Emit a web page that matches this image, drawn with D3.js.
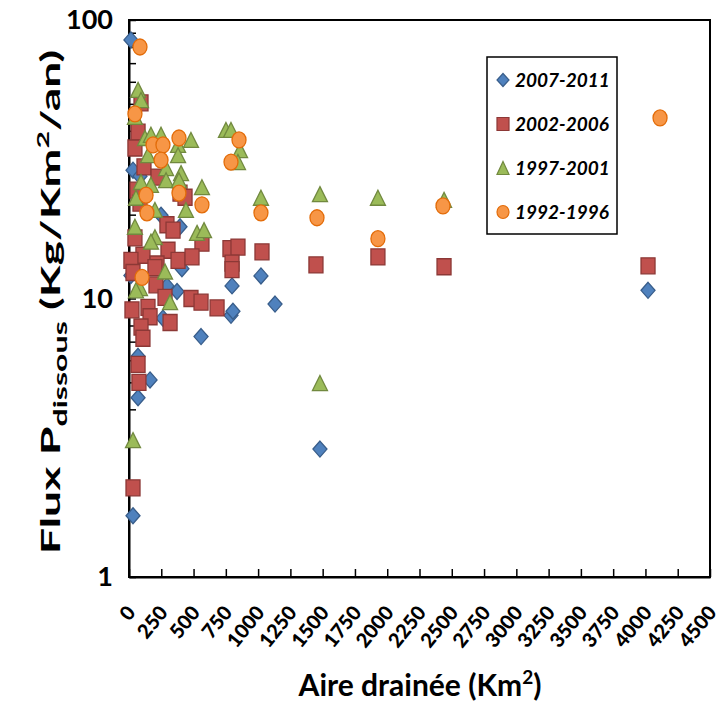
<!DOCTYPE html>
<html>
<head>
<meta charset="utf-8">
<script src="https://cdn.jsdelivr.net/npm/d3@7"></script>
<style>
  body { margin: 0; background: #fff; }
  text { font-family: Lato, "Liberation Sans", sans-serif; }
</style>
</head>
<body>
<svg width="726" height="727"></svg>
<script>
// series names, in drawing order
var seriesNames = ["2007-2011", "2002-2006", "1997-2001", "1992-1996"]

// [aire drainee (km2), flux P dissous (kg/km2/an)]
var p2007 = [[15, 84.8], [31, 28.9], [85, 27.5], [248, 19.9], [395, 18.1], [410, 12.8],
  [294, 11.1], [372, 10.6], [263, 8.5], [70, 6.2], [163, 5.1], [70, 4.4], [558, 7.3],
  [798, 11.1], [790, 8.7], [805, 9.0], [1022, 12.05], [1131, 9.55], [1479, 2.88],
  [4020, 10.7], [31, 1.66], [15, 12.1]]

var p2002 = [[93, 50.4], [70, 39.6], [46, 34.7], [116, 29.7], [225, 27.3], [62, 24.5],
  [85, 22.0], [395, 23.9], [434, 23.1], [294, 18.4], [341, 17.6], [46, 16.5], [565, 15.8],
  [302, 14.9], [108, 14.3], [15, 13.7], [380, 13.7], [217, 13.3], [488, 14.1], [782, 15.1],
  [844, 15.3], [798, 13.4], [798, 12.7], [1030, 14.7], [31, 12.4], [201, 12.9], [209, 11.2],
  [279, 10.1], [480, 10.0], [558, 9.7], [682, 9.25], [23, 9.1], [147, 9.3], [163, 8.6],
  [93, 7.9], [108, 7.2], [318, 8.2], [70, 5.8], [77, 5.0], [31, 2.09], [1448, 13.2],
  [1928, 14.1], [2440, 13.0], [4020, 13.1]]

var p1997 = [[70, 56.1], [93, 51.6], [46, 44.9], [124, 37.7], [170, 38.7], [248, 38.7],
  [147, 32.7], [380, 35.6], [380, 32.7], [480, 37.1], [287, 29.4], [403, 28.2], [751, 40.3],
  [790, 40.3], [860, 34.1], [844, 30.9], [93, 26.2], [170, 25.6], [287, 26.6], [387, 26.6],
  [565, 25.1], [54, 23.0], [441, 20.8], [201, 20.8], [46, 18.1], [201, 16.6], [170, 16.0],
  [527, 17.2], [581, 17.6], [279, 12.5], [85, 10.9], [318, 9.7], [54, 10.7], [31, 3.1],
  [1022, 23.0], [1479, 23.7], [1479, 4.97], [1928, 23.0], [2440, 22.6]]

var p1992 = [[85, 80.0], [46, 46.0], [186, 35.6], [263, 35.6], [387, 37.7], [248, 31.4],
  [852, 37.1], [790, 30.9], [132, 23.5], [387, 23.9], [139, 20.3], [565, 21.7], [1022, 20.3],
  [1456, 19.5], [1928, 16.4], [2432, 21.5], [4113, 44.5], [101, 11.9]]

var xTicks = d3.range(0, 4501, 250)
var yMajor = [1, 10, 100]

var styles = [
  {shape: "diamond", fill: "#4F81BD", stroke: "#385D8A"},
  {shape: "square", fill: "#C0504D", stroke: "#8C3836"},
  {shape: "triangle", fill: "#9BBB59", stroke: "#71893F"},
  {shape: "circle", fill: "#F79646", stroke: "#E36C09"}
]

var markerPath = function (shape, w, h) {
  var a = w / 2, b = h / 2
  if (shape == "diamond") return "M0," + (-b) + "L" + a + ",0L0," + b + "L" + (-a) + ",0Z"
  if (shape == "square") return "M" + (-a) + "," + (-b) + "H" + a + "V" + b + "H" + (-a) + "Z"
  if (shape == "triangle") return "M0," + (-b) + "L" + a + "," + b + "L" + (-a) + "," + b + "Z"
  return "M" + (-a) + ",0A" + a + "," + b + " 0 1,0 " + a + ",0A" + a + "," + b + " 0 1,0 " + (-a) + ",0Z"
}

var svg = d3.select("svg")
var plot = {left: 129, right: 710, top: 20, bottom: 577}

var xScale = d3.scaleLinear().domain([0, 4500]).range([plot.left, plot.right])
var yScale = d3.scaleLog().domain([1, 100]).range([plot.bottom, plot.top])

// frame
svg.append("rect")
  .attr("x", plot.left).attr("y", plot.top)
  .attr("width", plot.right - plot.left).attr("height", plot.bottom - plot.top)
  .attr("fill", "none").attr("stroke", "#000").attr("stroke-width", 2)

// x axis
var xAxis = d3.axisBottom(xScale).tickValues(xTicks).tickSizeInner(-8).tickSizeOuter(0)
  .tickFormat(d3.format("d"))
var gx = svg.append("g")
  .attr("transform", "translate(0," + plot.bottom + ")")
  .call(xAxis)
gx.select(".domain").attr("stroke-width", 2)
gx.selectAll(".tick line").attr("stroke-width", 1.5)
gx.selectAll(".tick text")
  .attr("y", 0).attr("dy", 0)
  .attr("text-anchor", "end")
  .attr("transform", "translate(7,36) rotate(-51)")
  .attr("font-size", 20).attr("font-weight", "900").attr("fill", "#000")

// y axis, log with minor ticks
var yTicks = []
for (var d = 1; d < 100; d *= 10) {
  for (var k = 1; k < 10; k++) yTicks.push(d * k)
}
yTicks.push(100)
var yAxis = d3.axisLeft(yScale).tickValues(yTicks).tickSizeInner(-7).tickSizeOuter(0)
  .tickPadding(16)
  .tickFormat(function (v) { return yMajor.indexOf(v) >= 0 ? v : "" })
var gy = svg.append("g")
  .attr("transform", "translate(" + plot.left + ",0)")
  .call(yAxis)
gy.select(".domain").attr("stroke-width", 2)
gy.selectAll(".tick line").attr("stroke-width", 1.5)
gy.selectAll(".tick text")
  .attr("font-size", 27).attr("font-weight", "bold").attr("fill", "#000")

// points
var allSeries = [p2007, p2002, p1997, p1992]
allSeries.forEach(function (pts, i) {
  var st = styles[i]
  svg.append("g")
    .selectAll("path")
    .data(pts)
    .enter()
    .append("path")
    .attr("d", markerPath(st.shape, st.shape == "triangle" ? 15 : 14, st.shape == "triangle" ? 15 : 16))
    .attr("transform", function (p) {
      return "translate(" + xScale(p[0]) + "," + yScale(p[1]) + ")"
    })
    .attr("fill", st.fill)
    .attr("stroke", st.stroke)
    .attr("stroke-width", 1.3)
})

// legend
var legend = svg.append("g")
legend.append("rect")
  .attr("x", 487).attr("y", 57).attr("width", 130).attr("height", 177)
  .attr("fill", "#fff").attr("stroke", "#000").attr("stroke-width", 1.5)
var entries = legend.selectAll("g.entry")
  .data(seriesNames)
  .enter()
  .append("g")
  .attr("transform", function (n, i) { return "translate(503," + (80 + i * 44) + ")" })
entries.append("path")
  .attr("d", function (n, i) { return markerPath(styles[i].shape, 12, 13) })
  .attr("fill", function (n, i) { return styles[i].fill })
  .attr("stroke", function (n, i) { return styles[i].stroke })
  .attr("stroke-width", 1.2)
entries.append("text")
  .attr("x", 12).attr("dy", "0.35em")
  .attr("font-size", 19).attr("font-weight", "bold").attr("font-style", "italic")
  .text(function (n) { return n })

// axis titles
var xt = svg.append("text")
  .attr("x", 420).attr("y", 696)
  .attr("text-anchor", "middle")
  .attr("font-size", 30).attr("font-weight", "bold")
xt.append("tspan").text("Aire drainée (Km")
xt.append("tspan").attr("dy", -12).attr("font-size", 19).text("2")
xt.append("tspan").attr("dy", 12).text(")")

var yt = svg.append("text")
  .attr("text-anchor", "middle")
  .attr("font-size", 26).attr("font-weight", "bold")
yt.append("tspan").text("Flux P")
yt.append("tspan").attr("dy", 7).attr("font-size", 18).text("dissous")
yt.append("tspan").attr("dy", -7).text(" (Kg/Km")
yt.append("tspan").attr("dy", -11).attr("font-size", 17).text("2")
yt.append("tspan").attr("dy", 11).text("/an)")
// stretch the title along its length to match the original
var ytLen = yt.node().getComputedTextLength()
yt.attr("transform", "translate(60,302) rotate(-90) scale(" + (505 / ytLen) + ",1)")
</script>
</body>
</html>
